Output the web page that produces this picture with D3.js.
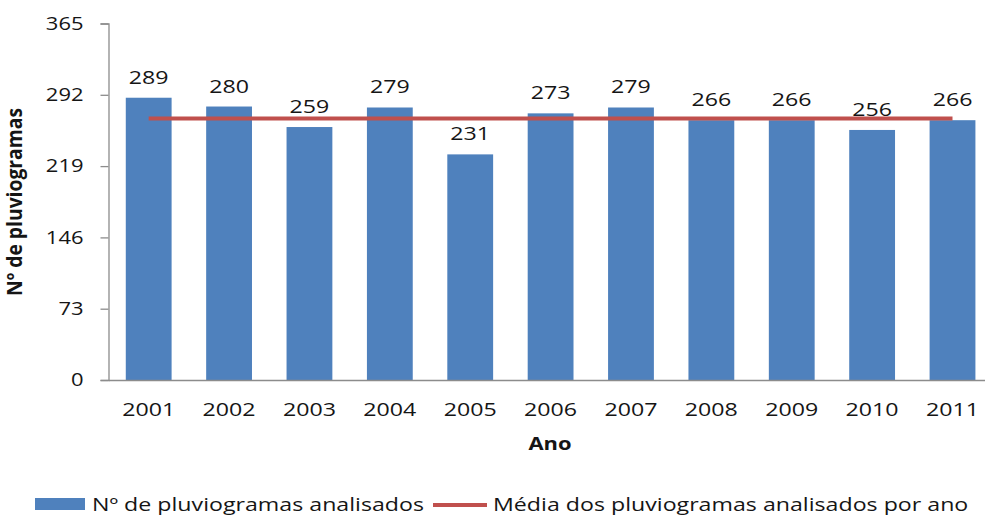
<!DOCTYPE html>
<html lang="pt">
<head>
<meta charset="utf-8">
<title>Nº de pluviogramas</title>
<script src="https://d3js.org/d3.v7.min.js"></script>
<style>
  body { margin: 0; background: #fff; }
  text { font-family: "Open Sans", sans-serif; fill: #151515; }
</style>
</head>
<body>
<script>

// data
var years = ["2001", "2002", "2003", "2004", "2005", "2006", "2007", "2008", "2009", "2010", "2011"];
var counts = [289, 280, 259, 279, 231, 273, 279, 266, 266, 256, 266];
var yTicks = [0, 73, 146, 219, 292, 365];
var barName = "Nº de pluviogramas analisados";
var lineName = "Média dos pluviogramas analisados por ano";

var mean = d3.mean(counts);

var w = 985;
var h = 516;
var padL = 108.5, padR = 992.7, padT = 23.5, padB = 380;
var sx = 1.22; // text looks stretched sideways

var svg = d3.select("body")
  .append("svg")
  .attr("width", w)
  .attr("height", h);

var xScale = d3.scaleBand()
  .domain(years)
  .range([padL, padR])
  .paddingInner(0.43)
  .paddingOuter(0.215);

var yScale = d3.scaleLinear()
  .domain([0, 365])
  .range([padB, padT]);

// helper: place a text with a horizontal stretch
function place(sel, x, y) {
  return sel.attr("transform", "translate(" + x + "," + y + ") scale(" + sx + ",1)");
}

// y axis
var yAxis = d3.axisLeft(yScale)
  .tickValues(yTicks)
  .tickSize(8)
  .tickPadding(17);

var gy = svg.append("g")
  .attr("transform", "translate(" + padL + ",0)")
  .call(yAxis);
gy.select(".domain").attr("stroke", "#8c8c8c").attr("stroke-width", 1.3);
gy.selectAll(".tick line").attr("stroke", "#8c8c8c").attr("stroke-width", 1.3);
gy.selectAll(".tick text")
  .attr("x", -25 / sx)
  .attr("transform", "scale(" + sx + ",1)")
  .style("font-size", "18px")
  .style("font-family", "'Open Sans', sans-serif")
  .attr("fill", "#151515");

// bars
svg.selectAll("rect.bar")
  .data(counts)
  .enter()
  .append("rect")
  .attr("class", "bar")
  .attr("x", (d, i) => xScale(years[i]))
  .attr("y", d => yScale(d))
  .attr("width", xScale.bandwidth())
  .attr("height", d => padB - yScale(d))
  .attr("fill", "#4F81BD");

// x axis
var xAxis = d3.axisBottom(xScale)
  .tickSize(0)
  .tickPadding(22.5);

var gx = svg.append("g")
  .attr("transform", "translate(0," + padB + ")")
  .call(xAxis);
gx.select(".domain").attr("stroke", "#8c8c8c").attr("stroke-width", 1.3);
gx.selectAll(".tick text")
  .attr("transform", "scale(" + sx + ",1)")
  .style("font-size", "19px")
  .style("font-family", "'Open Sans', sans-serif")
  .attr("fill", "#151515");

// mean line
var line = d3.line()
  .x(d => xScale(d) + xScale.bandwidth() / 2)
  .y(() => yScale(mean));

svg.append("path")
  .datum(years)
  .attr("d", line)
  .attr("fill", "none")
  .attr("stroke", "#C0504D")
  .attr("stroke-width", 4);

// value labels
svg.selectAll("text.val")
  .data(counts)
  .enter()
  .append("text")
  .attr("class", "val")
  .attr("text-anchor", "middle")
  .style("font-size", "19px")
  .text(d => d)
  .each(function (d, i) {
    place(d3.select(this), xScale(years[i]) + xScale.bandwidth() / 2, yScale(d) - 14);
  });

// axis titles
place(svg.append("text")
  .attr("text-anchor", "middle")
  .style("font-size", "18px")
  .style("font-weight", "bold")
  .text("Ano"), 550, 450);

svg.append("text")
  .attr("text-anchor", "middle")
  .attr("transform", "translate(22,202) rotate(-90) scale(1.17,1.25)")
  .style("font-size", "16.5px")
  .style("font-weight", "bold")
  .text("Nº de pluviogramas");

// legend
svg.append("rect")
  .attr("x", 35).attr("y", 498)
  .attr("width", 50).attr("height", 12)
  .attr("fill", "#4F81BD");
place(svg.append("text").style("font-size", "19px").text(barName), 92, 511);

svg.append("line")
  .attr("x1", 433).attr("x2", 487)
  .attr("y1", 505).attr("y2", 505)
  .attr("stroke", "#C0504D")
  .attr("stroke-width", 4);
place(svg.append("text").style("font-size", "19px").text(lineName), 493, 511);

</script>
</body>
</html>
